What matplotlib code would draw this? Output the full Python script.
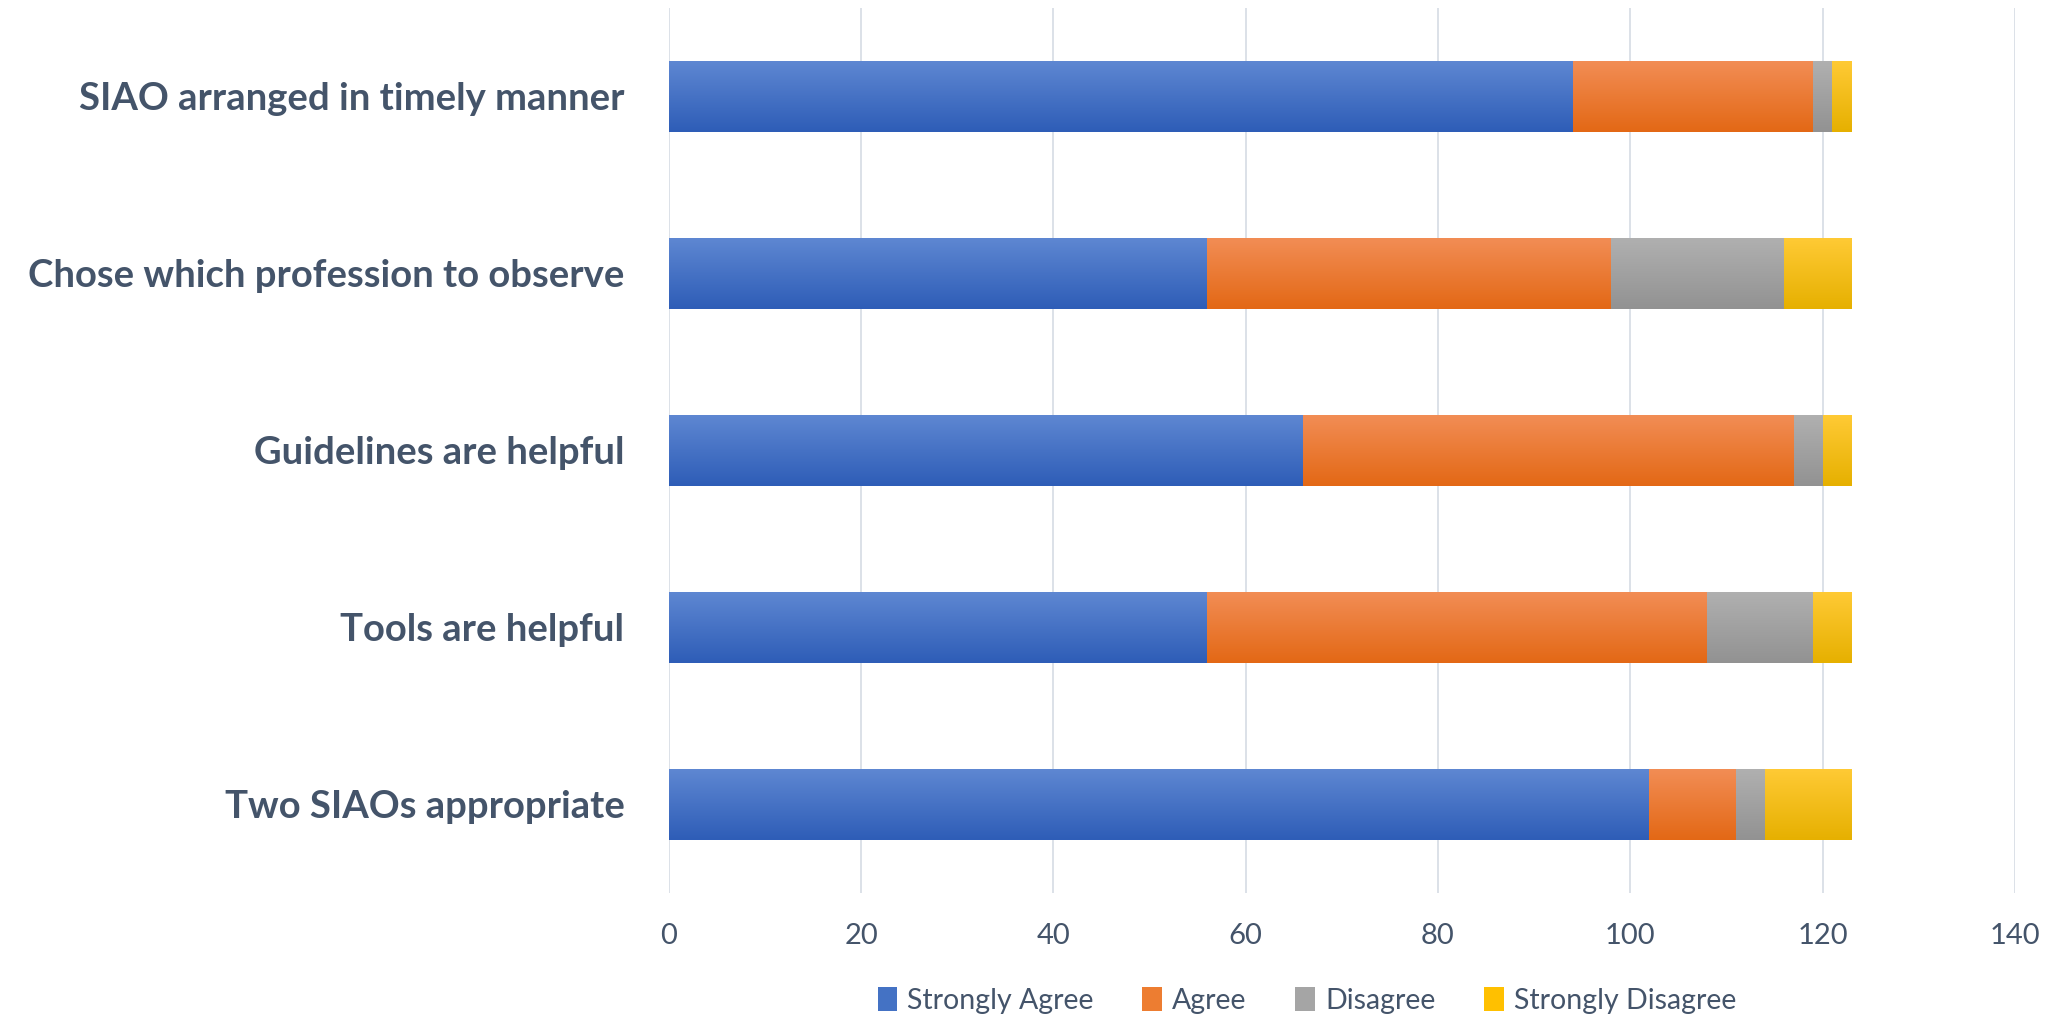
import numpy as np
import matplotlib.pyplot as plt
from matplotlib.colors import LinearSegmentedColormap
from matplotlib.patches import Patch

plt.rcParams['font.family'] = ['Lato', 'DejaVu Sans']

# ---- data (top row first) ----
questions = ['SIAO arranged in timely manner', 'Chose which profession to observe',
             'Guidelines are helpful', 'Tools are helpful', 'Two SIAOs appropriate']
strongly_agree = [94, 56, 66, 56, 102]
agree = [25, 42, 51, 52, 9]
disagree = [2, 18, 3, 11, 3]
strongly_disagree = [2, 7, 3, 4, 9]
series_names = ['Strongly Agree', 'Agree', 'Disagree', 'Strongly Disagree']
xticks = [0, 20, 40, 60, 80, 100, 120, 140]

# gradient colours: (top, bottom)
grads = [('#5E87D2', '#2E5DB7'), ('#F28D55', '#E36815'),
         ('#B0B0B0', '#929292'), ('#FFCA35', '#E6B000')]
solid = ['#4472C4', '#ED7D31', '#A5A5A5', '#FFC000']
text_col = '#44546A'

fig = plt.figure(figsize=(20.58, 10.18), dpi=100)
ax = fig.add_axes([0.325, 0.123, 0.654, 0.8695])

y = np.arange(len(questions))[::-1]
left = np.zeros(len(questions))
grad_img = np.linspace(1, 0, 256).reshape(-1, 1)
for vals, (c_top, c_bot) in zip([strongly_agree, agree, disagree, strongly_disagree], grads):
    cmap = LinearSegmentedColormap.from_list('g', [c_bot, c_top])
    bars = ax.barh(y, vals, left=left, height=0.4, color=c_top, linewidth=0, zorder=2)
    for b in bars:
        x0, y0 = b.get_x(), b.get_y()
        w, h = b.get_width(), b.get_height()
        im = ax.imshow(grad_img, cmap=cmap, extent=[x0, x0 + w, y0, y0 + h],
                       aspect='auto', zorder=3, origin='upper')
        im.set_clip_path(b)
    left += np.array(vals)

ax.set_xlim(0, 140)
ax.set_ylim(-0.5, len(questions) - 0.5)
ax.set_xticks(xticks)
ax.set_yticks(y)
ax.set_yticklabels(questions, fontsize=27.5, fontweight='bold', color=text_col)
ax.tick_params(axis='y', length=0, pad=32)
ax.tick_params(axis='x', length=0, pad=22, labelsize=21, labelcolor=text_col)
ax.grid(axis='x', color='#D9DEE6', linewidth=1.3, zorder=0)
ax.set_axisbelow(True)
for s in ax.spines.values():
    s.set_visible(False)

handles = [Patch(facecolor=c, edgecolor='none') for c in solid]
fig.legend(handles, series_names, loc='center', bbox_to_anchor=(0.635, 0.017),
           ncol=4, frameon=False, fontsize=20.5, labelcolor=text_col,
           handlelength=0.7, handleheight=0.9, handletextpad=0.35, columnspacing=1.7)

fig.savefig('out.png', dpi=100, facecolor='white')
